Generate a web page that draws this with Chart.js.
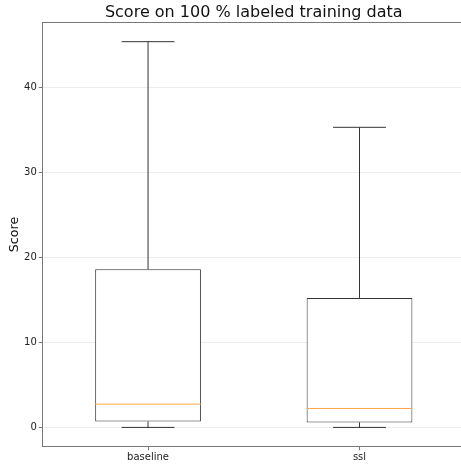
<!DOCTYPE html>
<html>
<head>
<meta charset="utf-8">
<script src="https://cdn.jsdelivr.net/npm/chart.js@4/dist/chart.umd.min.js"></script>
<style>
  html, body { margin: 0; padding: 0; overflow: hidden; background: #fff; }
  #wrap { width: 470px; height: 464px; }
</style>
</head>
<body>
<div id="wrap"><canvas id="c" width="470" height="464"></canvas></div>
<script>
// Box-plot summary statistics per model
const categories = ['baseline', 'ssl'];
const positions  = [1, 2];
const whiskerLow = [0.0, 0.0];
const q1         = [0.70, 0.59];
const median     = [2.74, 2.23];
const q3         = [18.62, 15.25];
const whiskerHigh = [45.41, 35.33];
const yTicks     = [0, 10, 20, 30, 40];

const BOX_WIDTH = 0.5;   // in x-axis units
const CAP_WIDTH = 0.25;  // in x-axis units

const EDGE = '#333333';
const MEDIAN_COLOR = '#ffa54a';

// Build line segments separated by null gaps
function segments(fn) {
  const pts = [];
  positions.forEach((p, i) => { fn(p, i).forEach(pt => pts.push(pt)); pts.push({x: p, y: null}); });
  return pts;
}

const boxData = positions.map((p, i) => ({x: p, y: [q1[i], q3[i]]}));
const whiskerData = segments((p, i) => [
  {x: p, y: q3[i]}, {x: p, y: whiskerHigh[i]}, {x: p, y: null},
  {x: p, y: whiskerLow[i]}, {x: p, y: q1[i]}
]);
const capData = segments((p, i) => [
  {x: p - CAP_WIDTH / 2, y: whiskerHigh[i]}, {x: p + CAP_WIDTH / 2, y: whiskerHigh[i]}, {x: p, y: null},
  {x: p - CAP_WIDTH / 2, y: whiskerLow[i]}, {x: p + CAP_WIDTH / 2, y: whiskerLow[i]}
]);
const medianData = segments((p, i) => [
  {x: p - BOX_WIDTH / 2, y: median[i]}, {x: p + BOX_WIDTH / 2, y: median[i]}
]);

const lineStyle = {
  type: 'line', borderWidth: 1, pointRadius: 0, pointHoverRadius: 0,
  spanGaps: false, fill: false, tension: 0
};

// Top spine of the axes frame
const frameTop = {
  id: 'frameTop',
  afterDraw(chart) {
    const {ctx, chartArea} = chart;
    ctx.save();
    ctx.strokeStyle = '#777777';
    ctx.lineWidth = 1;
    ctx.beginPath();
    ctx.moveTo(chartArea.left, Math.round(chartArea.top) + 0.5);
    ctx.lineTo(chartArea.right, Math.round(chartArea.top) + 0.5);
    ctx.stroke();
    ctx.restore();
  }
};

new Chart(document.getElementById('c'), {
  type: 'bar',
  data: {
    datasets: [
      Object.assign({}, lineStyle, {data: whiskerData, borderColor: EDGE, order: 3}),
      Object.assign({}, lineStyle, {data: capData, borderColor: EDGE, order: 3}),
      {
        type: 'bar', data: boxData, backgroundColor: '#ffffff', borderColor: EDGE,
        borderWidth: 1, borderSkipped: false, categoryPercentage: 1.0,
        barPercentage: BOX_WIDTH, order: 2
      },
      Object.assign({}, lineStyle, {data: medianData, borderColor: MEDIAN_COLOR, order: 1})
    ]
  },
  options: {
    responsive: false,
    animation: false,
    events: [],
    layout: { padding: { left: 0, right: 4.75, top: 0, bottom: 0 } },
    plugins: {
      legend: { display: false },
      tooltip: { enabled: false },
      title: {
        display: true,
        fullSize: false,
        text: 'Score on 100 % labeled training data',
        color: '#111111',
        font: { family: 'DejaVu Sans', size: 16, weight: 'normal', lineHeight: 1.2 },
        padding: { top: 3.2, bottom: 0 }
      }
    },
    scales: {
      x: {
        type: 'linear',
        min: 0.5, max: 2.5,
        offset: false,
        afterBuildTicks(scale) { scale.ticks = positions.map(v => ({value: v})); },
        afterFit(scale) { scale.height = 17.3; },
        ticks: {
          callback: (v) => categories[positions.indexOf(v)] ?? '',
          color: '#222222',
          font: { family: 'DejaVu Sans', size: 10 },
          padding: 1,
          maxRotation: 0, autoSkip: false
        },
        grid: { display: true, offset: false, drawOnChartArea: false, drawTicks: true, tickLength: 3.5, color: '#777777', tickColor: '#777777' },
        border: { display: true, color: '#777777', width: 1 }
      },
      y: {
        type: 'linear',
        min: -2.27, max: 47.68,
        afterBuildTicks(scale) { scale.ticks = yTicks.map(v => ({value: v})); },
        afterFit(scale) { scale.width = 42.3; },
        ticks: {
          color: '#222222',
          font: { family: 'DejaVu Sans', size: 10 },
          padding: 2
        },
        grid: { display: true, color: '#ececec', lineWidth: 1, drawTicks: true, tickLength: 3.5, tickColor: '#777777' },
        border: { display: true, color: '#777777', width: 1 },
        title: {
          display: true, text: 'Score', color: '#111111',
          font: { family: 'DejaVu Sans', size: 12.7 },
          padding: { top: 7, bottom: 0 }
        }
      }
    }
  },
  plugins: [frameTop]
});
</script>
</body>
</html>
